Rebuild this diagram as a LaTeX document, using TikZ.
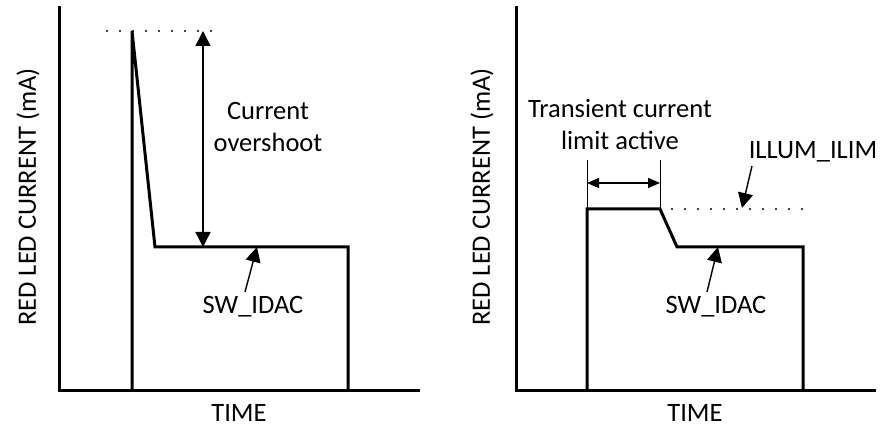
\documentclass[tikz,border=0pt]{standalone}
\usepackage{fontspec}
\setmainfont{Carlito}
\usetikzlibrary{arrows.meta}
\tikzset{
  thick line/.style={line width=3pt, line join=miter},
  thin line/.style={line width=1.4pt},
  dots line/.style={line width=2.2pt, line cap=round, dash pattern=on 0pt off 13pt},
  big tip/.style={-{Triangle[length=15pt,width=15pt]}},
  small tip/.style={{Triangle[length=12pt,width=10pt]}-{Triangle[length=12pt,width=10pt]}},
  lbl/.style={font=\fontsize{26.5}{32}\selectfont, align=center, inner sep=0pt},
}
\begin{document}
\begin{tikzpicture}[x=1pt,y=-1pt]
\useasboundingbox (0,0) rectangle (881,427);
% ---------- left chart ----------
\coordinate (LO) at (59,391);
\coordinate (LYT) at (59,6);
\coordinate (LXR) at (420,391);
\draw[thick line] (LYT) -- (LO) -- (LXR);
\coordinate (LP0) at (132,391);
\coordinate (LP1) at (132,31);
\coordinate (LP2) at (155,247);
\coordinate (LP3) at (348,247);
\coordinate (LP4) at (348,391);
\draw[thick line] (LP0) -- (LP1) -- (LP2) -- (LP3) -- (LP4);
\coordinate (LD0) at (107,31);
\coordinate (LD1) at (216,31);
\draw[dots line] (LD0) -- (LD1);
\coordinate (LA0) at (203,31);
\coordinate (LA1) at (203,247);
\coordinate (LAM) at (203,139);
\draw[thin line, big tip] (LAM) -- (LA0);
\draw[thin line, big tip] (LAM) -- (LA1);
\node[lbl] (overshoot) at (268,127) {Current\\overshoot};
\node[lbl] (swl) at (253,307) {SW\_IDAC};
\coordinate (LS0) at (245,292);
\coordinate (LS1) at (257,247);
\draw[thin line, big tip] (LS0) -- (LS1);
\node[lbl, rotate=90] (ylabL) at (28,197) {RED LED CURRENT (mA)};
\node[lbl] (timeL) at (239,413) {TIME};
% ---------- right chart ----------
\coordinate (RO) at (516,391);
\coordinate (RYT) at (516,6);
\coordinate (RXR) at (876,391);
\draw[thick line] (RYT) -- (RO) -- (RXR);
\coordinate (RP0) at (587,391);
\coordinate (RP1) at (587,209);
\coordinate (RP2) at (660,209);
\coordinate (RP3) at (677,247);
\coordinate (RP4) at (803,247);
\coordinate (RP5) at (803,391);
\draw[thick line] (RP0) -- (RP1) -- (RP2) -- (RP3) -- (RP4) -- (RP5);
\coordinate (RV0) at (587,160);
\coordinate (RV1) at (660,160);
\draw[line width=1pt] (RV0) -- (RP1);
\draw[line width=1pt] (RV1) -- (RP2);
\coordinate (RA0) at (587,183);
\coordinate (RA1) at (660,183);
\draw[thin line, small tip] (RA0) -- (RA1);
\coordinate (RD0) at (672,209);
\coordinate (RD1) at (810,209);
\draw[dots line] (RD0) -- (RD1);
\node[lbl] (trans) at (620,124) {Transient current\\limit active};
\node[lbl] (ilim) at (813,152) {ILLUM\_ILIM};
\coordinate (RI0) at (752,166);
\coordinate (RI1) at (742,208);
\draw[thin line, big tip] (RI0) -- (RI1);
\node[lbl] (swr) at (716,307) {SW\_IDAC};
\coordinate (RS0) at (707,292);
\coordinate (RS1) at (718,247);
\draw[thin line, big tip] (RS0) -- (RS1);
\node[lbl, rotate=90] (ylabR) at (482,197) {RED LED CURRENT (mA)};
\node[lbl] (timeR) at (695,413) {TIME};
\end{tikzpicture}
\end{document}
